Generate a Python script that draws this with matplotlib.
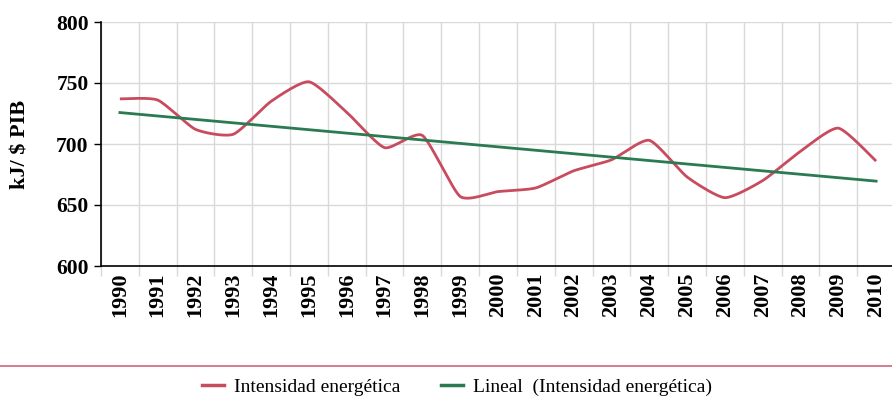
import numpy as np
import matplotlib
matplotlib.use("Agg")
import matplotlib.pyplot as plt
from matplotlib.lines import Line2D

years = list(range(1990, 2011))
intensidad = [737, 736, 712, 708, 735, 751, 726, 697, 707, 657, 661, 664,
              678, 687, 703, 673, 656, 670, 694, 713, 686]
year_labels = [str(y) for y in years]

red = "#C84B5E"
green = "#2A7A52"
grid_c = "#D9D9D9"

def smooth(x, y, n=30, k=0.6):
    x = np.asarray(x, float); y = np.asarray(y, float)
    px = np.concatenate([[x[0]], x, [x[-1]]])
    py = np.concatenate([[y[0]], y, [y[-1]]])
    xs, ys = [], []
    t = np.linspace(0, 1, n)
    for i in range(1, len(px) - 2):
        p0 = np.array([px[i], py[i]]); p3 = np.array([px[i+1], py[i+1]])
        c1 = p0 + k * (np.array([px[i+1], py[i+1]]) - np.array([px[i-1], py[i-1]])) / 6
        c2 = p3 - k * (np.array([px[i+2], py[i+2]]) - np.array([px[i], py[i]])) / 6
        b = ((1-t)**3)[:, None]*p0 + (3*(1-t)**2*t)[:, None]*c1 + (3*(1-t)*t**2)[:, None]*c2 + (t**3)[:, None]*p3
        xs.append(b[:, 0]); ys.append(b[:, 1])
    return np.concatenate(xs), np.concatenate(ys)

fig = plt.figure(figsize=(8.92, 4.0), dpi=100)
ax = fig.add_axes([101/892, (400-266)/400, 794/892, 244/400])

x = np.arange(len(years))
sx, sy = smooth(x, intensidad)
ax.plot(sx, sy, color=red, lw=2.0, solid_capstyle="butt", zorder=3)
coef = np.polyfit(x, intensidad, 1)
ax.plot(x, np.polyval(coef, x), color=green, lw=2.0, zorder=4)

ax.set_xlim(-0.5, len(years) - 0.5)
ax.set_ylim(600, 800)
ax.set_yticks([600, 650, 700, 750, 800])
ax.set_xticks(np.arange(-0.5, len(years), 1.0))
ax.set_xticklabels([])
ax.set_xticks(x, minor=True)
ax.set_xticklabels(year_labels, minor=True, rotation=90, fontfamily="Liberation Serif",
                   fontweight="bold", fontsize=16)
ax.tick_params(axis="x", which="major", length=7, color=grid_c, width=1)
ax.tick_params(axis="x", which="minor", length=0, pad=5)
ax.tick_params(axis="y", length=5, width=1, color="black", pad=4)
for lab in ax.get_yticklabels():
    lab.set_fontfamily("Liberation Serif"); lab.set_fontweight("bold"); lab.set_fontsize(15.5)
ax.grid(True, which="major", color=grid_c, lw=1)
ax.set_axisbelow(True)
for s in ["top", "right"]:
    ax.spines[s].set_visible(False)
ax.spines["left"].set_color("black"); ax.spines["bottom"].set_color("black")
ax.spines["left"].set_linewidth(1.2); ax.spines["bottom"].set_linewidth(1.2)
ax.set_ylabel("kJ/ $ PIB", fontfamily="Liberation Serif", fontweight="bold", fontsize=16,
              va="center", ha="center")
ax.yaxis.set_label_coords((21 - 101) / 794, 0.5)

fig.add_artist(Line2D([0, 1], [1 - 366/400, 1 - 366/400], color="#D0667A", lw=1.2))

handles = [Line2D([], [], color=red, lw=2.5), Line2D([], [], color=green, lw=2.5)]
fig.legend(handles, ["Intensidad energética", "Lineal  (Intensidad energética)"],
           loc="center", bbox_to_anchor=(457/892, 1 - 387/400), ncol=2, frameon=False,
           prop={"family": "Liberation Serif", "size": 14}, handlelength=1.15,
           handletextpad=0.5, columnspacing=2.1)

fig.savefig("out.png", dpi=100)
